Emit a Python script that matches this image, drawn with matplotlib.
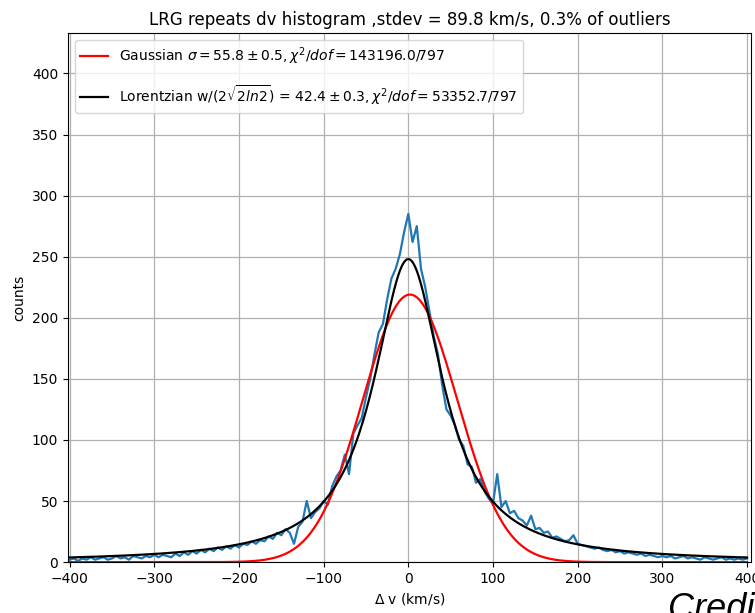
import numpy as np
import matplotlib
matplotlib.use("Agg")
import matplotlib.pyplot as plt

# histogram counts, bin centres every 5 km/s from -400 to 400
counts = [2, 3, 1, 3, 2, 4, 2, 3, 4, 2,
          3, 5, 3, 4, 2, 5, 4, 3, 5, 4,
          6, 4, 6, 5, 4, 7, 5, 8, 6, 9,
          7, 10, 8, 11, 9, 12, 10, 13, 11, 14,
          12, 15, 14, 17, 15, 18, 17, 21, 19, 24,
          22, 27, 24, 15, 29, 33, 50, 36, 41, 44,
          50, 47, 62, 70, 75, 88, 72, 105, 112, 118,
          135, 150, 170, 188, 195, 215, 232, 240, 252, 270,
          285,
          262, 275, 240, 225, 205, 185, 170, 145, 125, 120,
          112, 100, 95, 80, 78, 65, 68, 58, 52, 48,
          72, 45, 50, 40, 42, 36, 34, 30, 38, 27,
          28, 24, 25, 20, 21, 19, 17, 18, 22, 15,
          14, 13, 12, 11, 12, 10, 9, 10, 8, 9,
          7, 8, 7, 6, 7, 5, 6, 5, 4, 5,
          4, 5, 3, 4, 5, 3, 4, 3, 2, 4,
          3, 2, 3, 4, 2, 3, 2, 3, 2, 3]
dv = np.linspace(-400, 400, len(counts))

gauss_amp = 219.0
gauss_mu = 2.0
gauss_sigma = 55.8
lor_amp = 248.0
lor_mu = 0.0
lor_w = 42.4  # w / (2 sqrt(2 ln 2))
lor_gamma = lor_w * 2 * np.sqrt(2 * np.log(2)) / 2

xx = np.linspace(-400, 400, 801)
gauss = gauss_amp * np.exp(-0.5 * ((xx - gauss_mu) / gauss_sigma) ** 2)
lorentz = lor_amp / (1 + ((xx - lor_mu) / lor_gamma) ** 2)

fig = plt.figure(figsize=(7.55, 6.13), dpi=100)
ax = fig.add_axes([0.090, 0.083, 0.905, 0.863])

ax.plot(dv, counts, color='#1f77b4', lw=1.6)
ax.plot(xx, gauss, color='red', lw=1.6,
        label=r'Gaussian $\sigma = 55.8 \pm 0.5, \chi^2/dof = 143196.0/797$')
ax.plot(xx, lorentz, color='black', lw=1.6,
        label=r'Lorentzian w/(2$\sqrt{2 ln 2}$) = $42.4 \pm 0.3, \chi^2/dof = 53352.7/797$')

ax.set_xlim(-402, 405)
ax.set_ylim(0, 433)
ax.set_xticks([-400, -300, -200, -100, 0, 100, 200, 300, 400])
ax.set_yticks([0, 50, 100, 150, 200, 250, 300, 350, 400])
ax.tick_params(labelsize=10)
ax.grid(True, color='#b0b0b0', lw=0.9)
ax.set_xlabel(r'$\Delta$ v (km/s)', fontsize=10, labelpad=4)
ax.set_ylabel('counts', fontsize=10)
ax.set_title('LRG repeats dv histogram ,stdev = 89.8 km/s, 0.3% of outliers', fontsize=12)
ax.legend(loc='upper left', fontsize=10, labelspacing=1.15)

# partly cropped caption, as in the source image
fig.text(0.885, -0.01, 'Credit', fontsize=26, style='italic',
         family='Liberation Sans', va='baseline')

fig.savefig('out.png', dpi=100)
